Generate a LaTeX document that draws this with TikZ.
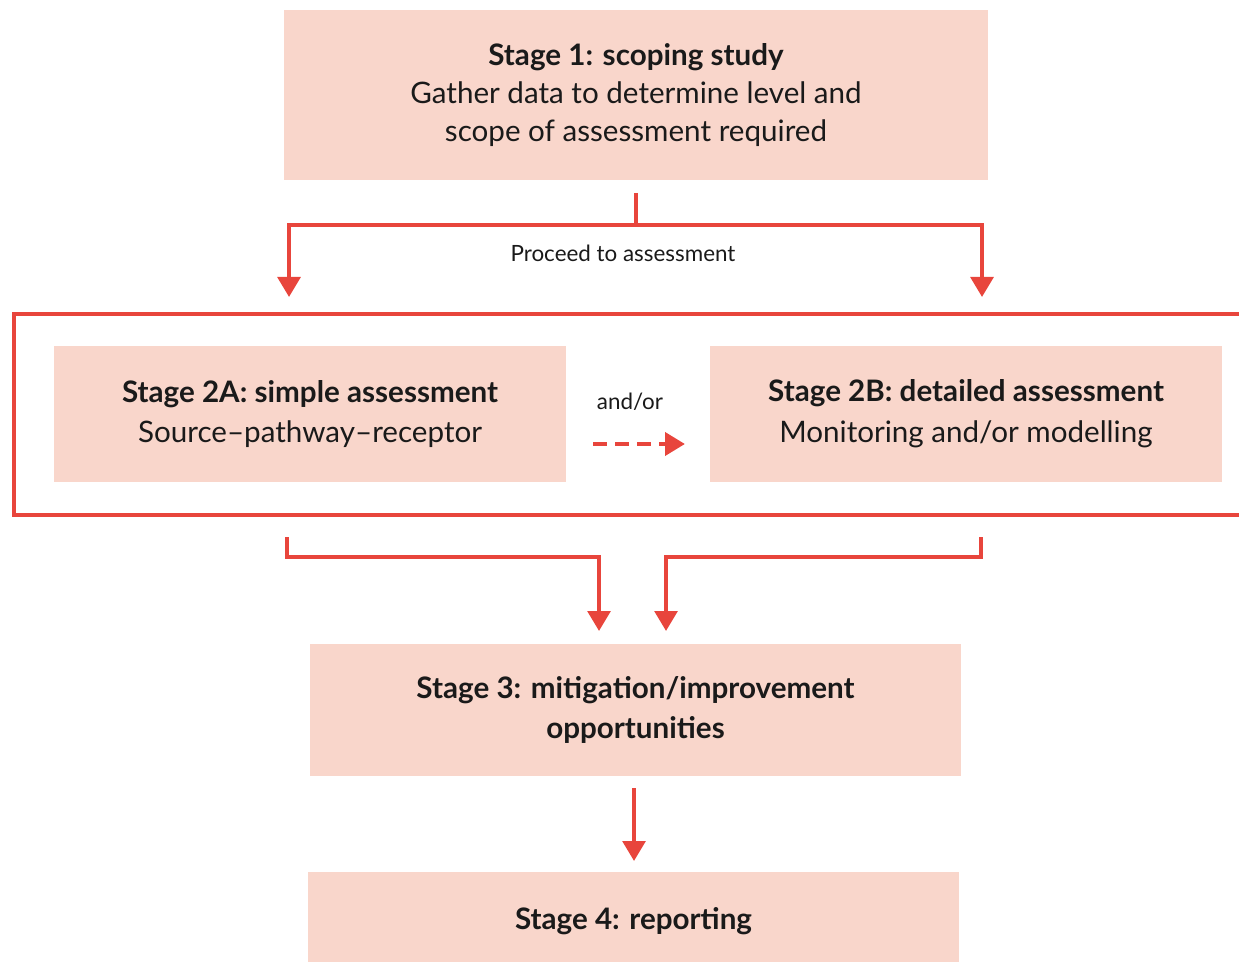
\documentclass[tikz,border=0pt]{standalone}
\usepackage{fontspec}
\setmainfont{Lato}
\usetikzlibrary{arrows.meta,positioning}
\definecolor{boxfill}{HTML}{F9D6CB}
\definecolor{redline}{HTML}{E8453C}
\definecolor{txt}{HTML}{1A1A1A}
\tikzset{
  stagebox/.style={fill=boxfill, draw=none, align=center, text=txt, inner sep=0pt,
    font=\fontsize{22.2}{28.5}\selectfont},
  conn/.style={draw=redline, line width=3pt, -{Triangle[length=15pt,width=17pt]}},
  plainconn/.style={draw=redline, line width=3pt},
  lbl/.style={text=txt, font=\fontsize{16.8}{20}\selectfont, inner sep=0pt}
}
\begin{document}
\begin{tikzpicture}[x=0.75pt,y=-0.75pt]
\useasboundingbox (0,0) rectangle (1239,962);
% group frame
\node[draw=redline, line width=2.4pt, minimum width=924pt, minimum height=150.75pt, inner sep=0pt] (group) at (630,414.5) {};
% boxes
\node[stagebox, minimum width=528pt, minimum height=127.5pt] (s1) at (636,95.5)
  {\textbf{Stage 1: scoping study}\\Gather data to determine level and\\scope of assessment required};
\node[stagebox, minimum width=384pt, minimum height=102pt] (s2a) at (310,414)
  {\textbf{Stage 2A: simple assessment}\\[2pt]Source--pathway--receptor};
\node[stagebox, minimum width=384pt, minimum height=102pt] (s2b) at (966,414)
  {\textbf{Stage 2B: detailed assessment}\\[2pt]Monitoring and/or modelling};
\node[stagebox, minimum width=488.25pt, minimum height=99pt] (s3) at (635.5,710)
  {\textbf{Stage 3: mitigation/improvement}\\[1pt]\textbf{opportunities}};
\node[stagebox, minimum width=488.25pt, minimum height=73.5pt] (s4) at (633.5,921)
  {\textbf{Stage 4: reporting}};
% coordinates
\coordinate (t1) at (636,193);
\coordinate (j1) at (636,225);
\coordinate (aL) at (289,297);
\coordinate (aR) at (982,297);
\coordinate (bL) at (287,537);
\coordinate (bR) at (981,537);
\coordinate (cL) at (599,631);
\coordinate (cR) at (666,631);
\coordinate (d1) at (634,788);
\coordinate (d2) at (634,861);
% top connectors
\draw[plainconn] (t1) -- (j1);
\draw[conn] (j1) -| (aL);
\draw[conn] (j1) -| (aR);
\node[lbl] (proceed) at (623,253) {Proceed to assessment};
% and/or
\node[lbl] (andor) at (630,402) {and/or};
\coordinate (dA) at (593,444);
\coordinate (dB) at (685,444);
\draw[draw=redline, line width=3.6pt, dash pattern=on 10.5pt off 6pt, -{Triangle[length=15pt,width=17pt,sep=0pt]}] (dA) -- (dB);
% bottom connectors
\draw[conn] (bL) |- (599,557) -- (cL);
\draw[conn] (bR) |- (666,557) -- (cR);
\draw[conn] (d1) -- (d2);
\end{tikzpicture}
\end{document}
